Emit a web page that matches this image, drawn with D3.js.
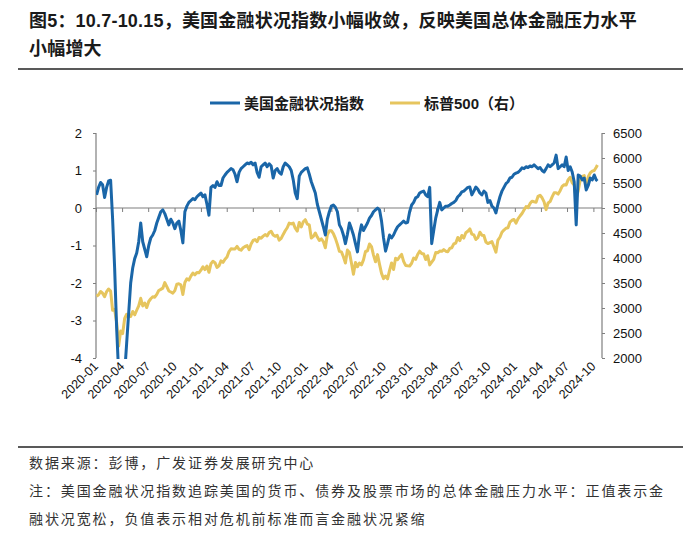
<!DOCTYPE html>
<html><head><meta charset="utf-8">
<script src="https://cdn.jsdelivr.net/npm/d3@7"></script>
<style>body{margin:0;background:#fff} svg{display:block}</style>
</head><body>
<svg id="c" width="700" height="537"></svg>
<script>
// ---------- data ----------
const titleLines = ["图5：10.7-10.15，美国金融状况指数小幅收敛，反映美国总体金融压力水平", "小幅增大"];
const seriesNames = ["美国金融状况指数", "标普500（右）"];
const footLines = [
  "数据来源：彭博，广发证券发展研究中心",
  "注：美国金融状况指数追踪美国的货币、债券及股票市场的总体金融压力水平：正值表示金",
  "融状况宽松，负值表示相对危机前标准而言金融状况紧缩"
];
const xTickLabels = ["2020-01","2020-04","2020-07","2020-10","2021-01","2021-04","2021-07","2021-10",
  "2022-01","2022-04","2022-07","2022-10","2023-01","2023-04","2023-07","2023-10",
  "2024-01","2024-04","2024-07","2024-10"];
const leftTicks = [-4, -3, -2, -1, 0, 1, 2];
const rightTicks = [2000, 2500, 3000, 3500, 4000, 4500, 5000, 5500, 6000, 6500];
const firstWeek = "2020-01-03";   // weekly observations (Fridays)
const lastDay = "2024-10-15";     // final observation

// US financial conditions index (weekly)
const fci = [
  0.35, 0.55, 0.68, 0.62, 0.28, 0.55, 0.72, 0.74, -0.3, -1.6,
  -3.2, -4.4, -4.9, -4.8, -4.4, -3.6, -2.8, -2.0, -1.6, -1.35,
  -1.2, -0.9, -0.4, -0.9, -1.1, -1.3, -1.0, -0.8, -0.72, -0.6,
  -0.4, -0.25, -0.1, -0.05, -0.15, -0.3, -0.45, -0.3, -0.4, -0.55,
  -0.4, -0.35, -0.6, -0.93, -0.1, 0.05, 0.15, 0.2, 0.25, 0.22,
  0.3, 0.35, 0.4, 0.3, 0.35, 0.1, -0.19, 0.55, 0.6, 0.55,
  0.7, 0.6, 0.6, 0.8, 0.88, 0.95, 1.0, 1.05, 1.02, 0.9,
  0.7, 0.95, 1.05, 1.1, 1.15, 1.2, 1.18, 1.22, 1.15, 1.2,
  0.95, 0.82, 1.1, 1.15, 1.2, 1.1, 1.18, 1.12, 0.8, 1.0,
  1.05, 0.95, 0.9, 1.1, 1.2, 1.15, 1.1, 1.0, 0.75, 0.4,
  0.25, 0.85, 0.95, 1.0, 1.05, 1.07, 0.9, 0.7, 0.55, 0.4,
  0.1, -0.1, -0.3, -0.5, -0.72, -0.3, -0.1, 0.05, 0.08, 0.02,
  -0.1, -0.45, -0.55, -0.72, -0.95, -0.7, -0.4, -0.55, -0.72, -0.95,
  -1.17, -0.7, -0.45, -0.6, -0.5, -0.4, -0.27, -0.2, -0.1, -0.05,
  0.0, -0.05, -0.35, -0.8, -1.15, -0.95, -0.72, -0.8, -0.72, -0.6,
  -0.5, -0.45, -0.4, -0.35, -0.4, -0.38, -0.1, 0.08, 0.15, 0.27,
  0.3, 0.4, 0.43, 0.45, 0.35, 0.3, 0.55, -0.95, -0.6, -0.27,
  -0.05, 0.15, -0.05, 0.0, 0.05, 0.05, 0.08, 0.12, 0.15, 0.2,
  0.3, 0.35, 0.43, 0.45, 0.5, 0.55, 0.56, 0.35, 0.45, 0.56,
  0.5, 0.4, 0.35, 0.45, 0.4, 0.15, 0.2, 0.05, 0.0, -0.13,
  0.1, 0.3, 0.45, 0.55, 0.65, 0.7, 0.8, 0.82, 0.9, 0.93,
  0.95, 1.0, 1.07, 1.05, 1.1, 1.08, 1.12, 1.1, 1.15, 1.1,
  1.05, 1.08, 1.0, 0.96, 1.05, 1.15, 1.1, 1.15, 1.2, 1.41,
  1.05, 1.1, 1.15, 1.1, 1.36, 1.0, 1.1, 0.96, 0.7, -0.45,
  0.88, 0.85, 0.75, 0.8, 0.48, 0.6, 0.8, 0.75, 0.88, 0.75,
  0.72
];
// S&P 500 (weekly, right axis)
const spx = [
  3235, 3265, 3330, 3295, 3225, 3328, 3380, 3338, 2954, 2972,
  2711, 2240, 2541, 2489, 2790, 2875, 2837, 2831, 2930, 2864,
  2955, 3044, 3194, 3041, 3098, 3009, 3130, 3185, 3225, 3216,
  3271, 3351, 3373, 3397, 3508, 3427, 3341, 3319, 3298, 3348,
  3477, 3483, 3465, 3270, 3509, 3585, 3558, 3638, 3699, 3663,
  3709, 3703, 3756, 3825, 3768, 3841, 3714, 3887, 3934, 3907,
  3811, 3842, 3943, 3913, 3975, 4020, 4129, 4185, 4180, 4181,
  4233, 4174, 4156, 4204, 4230, 4247, 4166, 4281, 4352, 4370,
  4327, 4411, 4395, 4437, 4468, 4442, 4509, 4535, 4459, 4433,
  4455, 4357, 4391, 4471, 4545, 4605, 4697, 4682, 4698, 4595,
  4538, 4712, 4620, 4725, 4766, 4677, 4663, 4398, 4432, 4501,
  4419, 4349, 4385, 4329, 4204, 4463, 4543, 4546, 4488, 4393,
  4272, 4132, 4123, 4024, 3901, 4158, 4109, 3901, 3675, 3912,
  3825, 3899, 3863, 3962, 4130, 4145, 4280, 4228, 4058, 3924,
  4067, 3873, 3693, 3586, 3640, 3583, 3753, 3901, 3771, 3993,
  3965, 4026, 4072, 3934, 3852, 3845, 3840, 3895, 3999, 3973,
  4071, 4136, 4090, 4079, 3970, 4046, 3862, 3917, 3971, 4109,
  4105, 4138, 4133, 4169, 4136, 4124, 4192, 4205, 4282, 4299,
  4410, 4348, 4450, 4399, 4505, 4536, 4582, 4478, 4464, 4370,
  4406, 4516, 4457, 4450, 4320, 4288, 4308, 4327, 4224, 4117,
  4358, 4415, 4514, 4559, 4595, 4604, 4719, 4755, 4770, 4697,
  4784, 4840, 4891, 4959, 5027, 5006, 5089, 5137, 5124, 5117,
  5234, 5254, 5204, 5123, 4967, 5100, 5128, 5223, 5303, 5305,
  5278, 5347, 5431, 5465, 5460, 5567, 5615, 5505, 5459, 5186,
  5344, 5554, 5634, 5648, 5408, 5626, 5703, 5738, 5751, 5815,
  5859
];

// ---------- drawing ----------
const parse = d3.timeParse("%Y-%m-%d");
const parseM = d3.timeParse("%Y-%m");
const n = Math.min(fci.length, spx.length);
const start = parse(firstWeek), endObs = parse(lastDay);
const dates = d3.range(n).map(i => i === n - 1 ? endObs : d3.timeDay.offset(start, 7 * i));
const rows = dates.map((d, i) => ({ d, a: fci[i], b: spx[i] }));

const svg = d3.select("#c");
const X0 = 96, X1 = 602, Y0 = 133, Y1 = 358;
const x = d3.scaleTime().domain([parse("2020-01-01"), parse("2024-10-31")]).range([X0, X1]);
const yL = d3.scaleLinear().domain([-4, 2]).range([Y1, Y0]);
const yR = d3.scaleLinear().domain([2000, 6500]).range([Y1, Y0]);

const NUM = "'Liberation Sans', Arial, sans-serif";
const CJK = "'Liberation Sans', 'Noto Sans CJK SC', sans-serif";
const AX = "#7f7f7f";
const BLUE = "#1a66a8", GOLD = "#e6c55e";

// title
svg.selectAll("text.title").data(titleLines).join("text")
  .attr("x", 29).attr("y", (d, i) => 27 + i * 28)
  .attr("font-family", CJK).attr("font-size", 18).attr("font-weight", "bold")
  .attr("letter-spacing", 0.2)
  .attr("fill", "#1a1a1a").text(d => d);
svg.append("line").attr("x1", 18).attr("x2", 683).attr("y1", 69).attr("y2", 69)
  .attr("stroke", "#222").attr("stroke-width", 1.6);

// legend
const leg = [{ name: seriesNames[0], c: BLUE, x: 210 }, { name: seriesNames[1], c: GOLD, x: 390 }];
const lg = svg.append("g");
leg.forEach(l => {
  lg.append("line").attr("x1", l.x).attr("x2", l.x + 30).attr("y1", 103).attr("y2", 103)
    .attr("stroke", l.c).attr("stroke-width", 3);
  lg.append("text").attr("x", l.x + 34).attr("y", 108.5)
    .attr("font-family", CJK).attr("font-size", 15).attr("font-weight", "bold")
    .attr("fill", "#1a1a1a").text(l.name);
});

// axes
const gL = svg.append("g").attr("transform", `translate(${X0},0)`)
  .call(d3.axisLeft(yL).tickValues(leftTicks).tickSize(3).tickPadding(11).tickFormat(d3.format("d")));
const gR = svg.append("g").attr("transform", `translate(${X1},0)`)
  .call(d3.axisRight(yR).tickValues(rightTicks).tickSize(3).tickPadding(8).tickFormat(d3.format("d")));
[gL, gR].forEach(g => {
  g.select(".domain").attr("stroke", AX).attr("stroke-width", 1.2).attr("d", `M0,${Y0}V${Y1}`);
  g.selectAll(".tick line").attr("stroke", AX);
  g.selectAll(".tick text").attr("font-family", NUM).attr("font-size", 13).attr("fill", "#111");
});
gL.selectAll(".tick text").text(d => d < 0 ? "-" + Math.abs(d) : d);

// x axis on zero line
const xTicks = xTickLabels.map(parseM);
const gX = svg.append("g").attr("transform", `translate(0,${yL(0)})`)
  .call(d3.axisBottom(x).tickValues(xTicks).tickSize(4).tickFormat(""));
gX.select(".domain").attr("stroke", AX).attr("stroke-width", 1.2).attr("d", `M${X0},0H${X1}`);
gX.selectAll(".tick line").attr("stroke", AX);

// x labels at bottom
svg.append("g").selectAll("text").data(xTicks).join("text")
  .attr("transform", d => `translate(${x(d) + 3},${367}) rotate(-45)`)
  .attr("text-anchor", "end")
  .attr("font-family", NUM).attr("font-size", 12.5).attr("fill", "#111")
  .text((d, i) => xTickLabels[i]);

// clip
svg.append("clipPath").attr("id", "plot").append("rect")
  .attr("x", X0).attr("y", Y0 - 5).attr("width", X1 - X0).attr("height", Y1 - Y0 + 6);

const lineB = d3.line().x(r => x(r.d)).y(r => yR(r.b));
const lineA = d3.line().x(r => x(r.d)).y(r => yL(r.a));
svg.append("path").datum(rows).attr("d", lineB).attr("clip-path", "url(#plot)")
  .attr("fill", "none").attr("stroke", GOLD).attr("stroke-width", 3).attr("stroke-linejoin", "round");
svg.append("path").datum(rows).attr("d", lineA).attr("clip-path", "url(#plot)")
  .attr("fill", "none").attr("stroke", BLUE).attr("stroke-width", 3).attr("stroke-linejoin", "round");

// footnotes
svg.append("line").attr("x1", 18).attr("x2", 683).attr("y1", 447).attr("y2", 447)
  .attr("stroke", "#222").attr("stroke-width", 1.4);
svg.selectAll("text.foot").data(footLines).join("text")
  .attr("x", 29).attr("y", (d, i) => 468 + i * 28)
  .attr("font-family", CJK).attr("font-size", 14).attr("letter-spacing", 1.9)
  .attr("fill", "#333").text(d => d);
</script>
</body></html>
